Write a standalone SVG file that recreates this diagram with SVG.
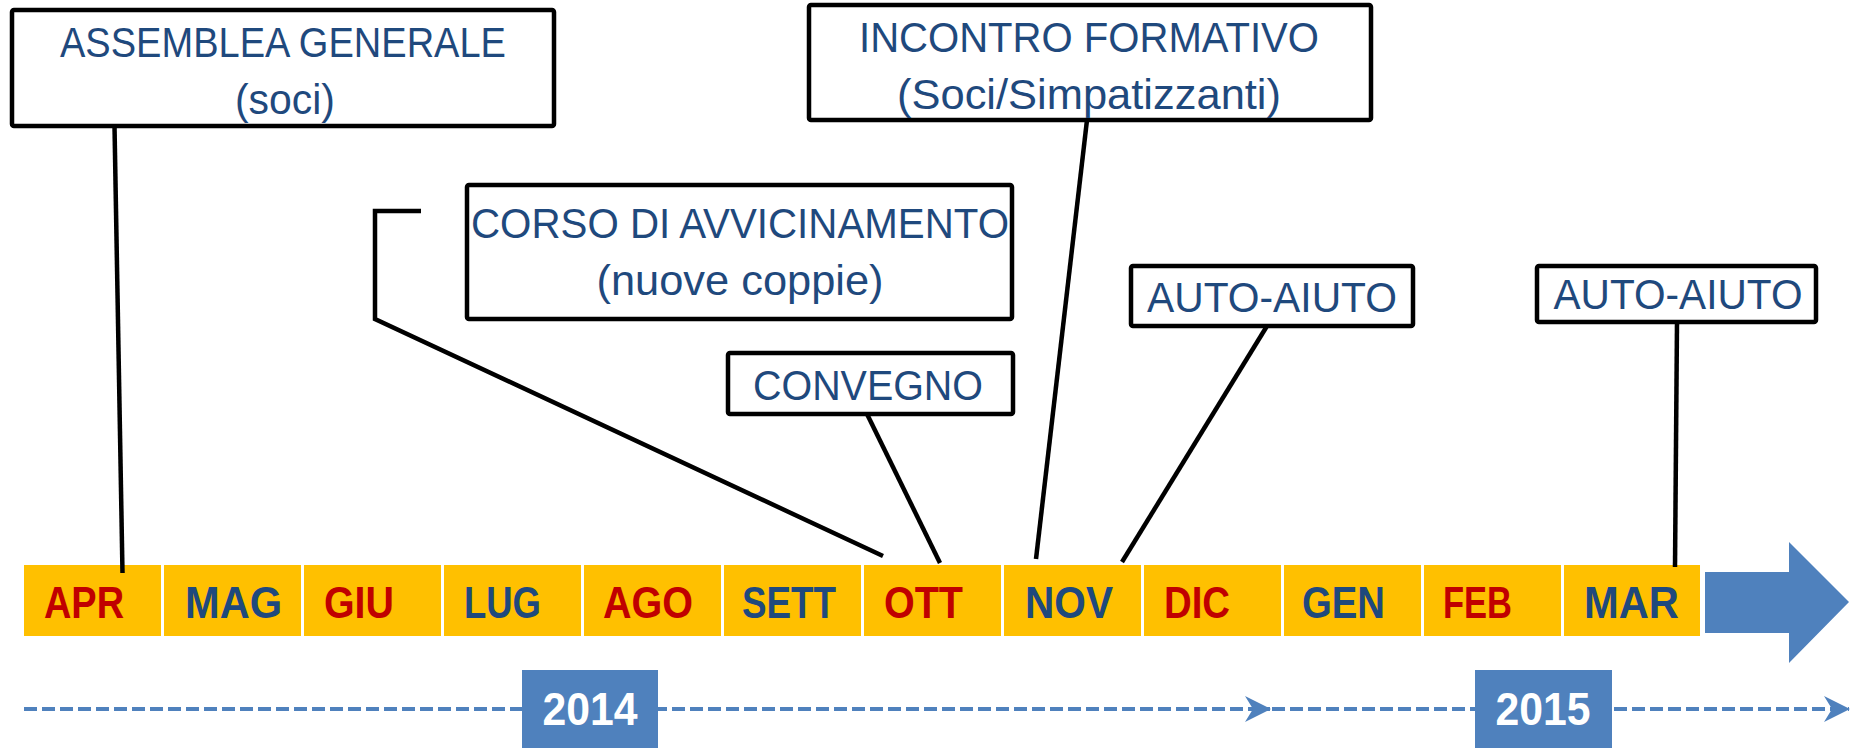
<svg xmlns="http://www.w3.org/2000/svg" width="1851" height="748" viewBox="0 0 1851 748">
<style>
.box{fill:#fff;stroke:#000;stroke-width:4.5}
.bt{font-family:"Liberation Sans",Arial,sans-serif;font-size:42px;fill:#1F497D;text-anchor:middle}
.cell{fill:#FFC000}
.m{font-family:"Liberation Sans",Arial,sans-serif;font-size:44px;font-weight:bold}
.r{fill:#C00000}
.b{fill:#1F497D}
.yr{fill:#4F81BD}
.yt{font-family:"Liberation Sans",Arial,sans-serif;font-size:46px;font-weight:bold;fill:#fff;text-anchor:middle}
.ln{fill:none;stroke:#000;stroke-width:4.5}
.dash{fill:none;stroke:#4F81BD;stroke-width:4;stroke-dasharray:13 5}
</style>
<defs>
<marker id="ah" viewBox="0 0 26 26" refX="25" refY="13" markerWidth="26" markerHeight="26" markerUnits="userSpaceOnUse" orient="auto">
<path d="M26,13 L0,0 L8,13 L0,26 Z" fill="#4F81BD"/>
</marker>
</defs>
<g id="timeline">
<rect class="cell" x="24" y="565" width="137" height="71"/>
<rect class="cell" x="164" y="565" width="137" height="71"/>
<rect class="cell" x="304" y="565" width="137" height="71"/>
<rect class="cell" x="444" y="565" width="137" height="71"/>
<rect class="cell" x="584" y="565" width="137" height="71"/>
<rect class="cell" x="724" y="565" width="137" height="71"/>
<rect class="cell" x="864" y="565" width="137" height="71"/>
<rect class="cell" x="1004" y="565" width="137" height="71"/>
<rect class="cell" x="1144" y="565" width="137" height="71"/>
<rect class="cell" x="1284" y="565" width="137" height="71"/>
<rect class="cell" x="1424" y="565" width="137" height="71"/>
<rect class="cell" x="1564" y="565" width="136" height="71"/>
<text class="m r" x="44" y="618" textLength="80" lengthAdjust="spacingAndGlyphs">APR</text>
<text class="m b" x="185" y="618" textLength="97" lengthAdjust="spacingAndGlyphs">MAG</text>
<text class="m r" x="324" y="618" textLength="70" lengthAdjust="spacingAndGlyphs">GIU</text>
<text class="m b" x="464" y="618" textLength="77" lengthAdjust="spacingAndGlyphs">LUG</text>
<text class="m r" x="603" y="618" textLength="90" lengthAdjust="spacingAndGlyphs">AGO</text>
<text class="m b" x="742" y="618" textLength="94" lengthAdjust="spacingAndGlyphs">SETT</text>
<text class="m r" x="884" y="618" textLength="79" lengthAdjust="spacingAndGlyphs">OTT</text>
<text class="m b" x="1025" y="618" textLength="88" lengthAdjust="spacingAndGlyphs">NOV</text>
<text class="m r" x="1164" y="618" textLength="66" lengthAdjust="spacingAndGlyphs">DIC</text>
<text class="m b" x="1302" y="618" textLength="83" lengthAdjust="spacingAndGlyphs">GEN</text>
<text class="m r" x="1443" y="618" textLength="69" lengthAdjust="spacingAndGlyphs">FEB</text>
<text class="m b" x="1584" y="618" textLength="95" lengthAdjust="spacingAndGlyphs">MAR</text>
<path d="M1705,572 H1789 V542 L1849,602 L1789,663 V633 H1705 Z" fill="#4F81BD"/>
</g>
<g id="years">
<path class="dash" d="M24,709 H1270" marker-end="url(#ah)"/>
<path class="dash" d="M1272,709 H1849" marker-end="url(#ah)"/>
<g id="y2014">
<rect class="yr" x="522" y="670" width="136" height="78"/>
<text class="yt" x="590" y="725" textLength="95" lengthAdjust="spacingAndGlyphs">2014</text>
</g>
<g id="y2015">
<rect class="yr" x="1475" y="670" width="137" height="78"/>
<text class="yt" x="1543" y="725" textLength="95" lengthAdjust="spacingAndGlyphs">2015</text>
</g>
</g>
<g id="connectors">
<path class="ln" d="M114.5,126 L122.5,573"/>
<path class="ln" d="M421,211 H375 V319 L883,556"/>
<path class="ln" d="M867,414 L940,563"/>
<path class="ln" d="M1087,120 L1036,559"/>
<path class="ln" d="M1267,326 L1122,562"/>
<path class="ln" d="M1677,322 L1675,567"/>
</g>
<g id="assemblea">
<rect class="box" x="12" y="10" width="542" height="116" rx="2"/>
<text class="bt" x="283" y="57" textLength="446" lengthAdjust="spacingAndGlyphs">ASSEMBLEA GENERALE</text>
<text class="bt" x="285" y="114" textLength="100" lengthAdjust="spacingAndGlyphs">(soci)</text>
</g>
<g id="incontro">
<rect class="box" x="809" y="5" width="562" height="115" rx="2"/>
<text class="bt" x="1089" y="52" textLength="460" lengthAdjust="spacingAndGlyphs">INCONTRO FORMATIVO</text>
<text class="bt" x="1089" y="109" textLength="384" lengthAdjust="spacingAndGlyphs">(Soci/Simpatizzanti)</text>
</g>
<g id="corso">
<rect class="box" x="467" y="185" width="545" height="134" rx="2"/>
<text class="bt" x="740" y="238" textLength="538" lengthAdjust="spacingAndGlyphs">CORSO DI AVVICINAMENTO</text>
<text class="bt" x="740" y="295" textLength="287" lengthAdjust="spacingAndGlyphs">(nuove coppie)</text>
</g>
<g id="convegno">
<rect class="box" x="728" y="353" width="285" height="61" rx="2"/>
<text class="bt" x="868" y="400" textLength="230" lengthAdjust="spacingAndGlyphs">CONVEGNO</text>
</g>
<g id="autoaiuto1">
<rect class="box" x="1131" y="266" width="282" height="60" rx="2"/>
<text class="bt" x="1272" y="312" textLength="250" lengthAdjust="spacingAndGlyphs">AUTO-AIUTO</text>
</g>
<g id="autoaiuto2">
<rect class="box" x="1537" y="266" width="279" height="56" rx="2"/>
<text class="bt" x="1678" y="309" textLength="249" lengthAdjust="spacingAndGlyphs">AUTO-AIUTO</text>
</g>
</svg>
